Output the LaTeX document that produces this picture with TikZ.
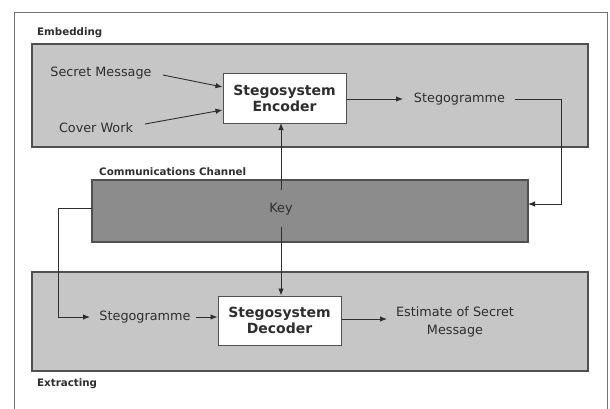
\documentclass[tikz,border=0pt]{standalone}
\usepackage{fontspec}
\setmainfont{DejaVu Sans}
\usetikzlibrary{arrows.meta}
\definecolor{panelfill}{HTML}{C6C6C6}
\definecolor{chanfill}{HTML}{8C8C8C}
\definecolor{edge}{HTML}{505050}
\definecolor{ink}{HTML}{2E2E2E}
\tikzset{
  panel/.style={draw=edge, line width=1.2pt, fill=panelfill},
  chan/.style={draw=edge, line width=1.2pt, fill=chanfill},
  procbox/.style={draw=edge, line width=1pt, fill=white, inner sep=0pt, align=center, font=\fontsize{14}{16}\selectfont\bfseries, text=ink},
  lbl/.style={font=\fontsize{12.8}{18}\selectfont, text=ink, inner sep=1pt, align=center},
  paneltitle/.style={font=\fontsize{10.3}{12}\selectfont\bfseries, text=ink, inner sep=0pt, anchor=west},
  conn/.style={draw=ink, line width=0.9pt, -{Latex[length=7pt,width=5.5pt]}}
}
\begin{document}
\begin{tikzpicture}[x=1pt,y=-1pt]
\useasboundingbox (0,0) rectangle (610,408);
\clip (0,0) rectangle (610,408);
\fill[white] (0,0) rectangle (610,408);
% outer frame
\draw[draw=edge!80, line width=1pt] (14,12) rectangle (607,414);
% panels
\draw[panel] (32,44) rectangle (588,147);
\draw[chan] (92,180) rectangle (528,242);
\draw[panel] (32,272) rectangle (588,371);
% panel captions
\node[paneltitle] (capemb) at (37,33) {Embedding};
\node[paneltitle] (capchan) at (99,172) {Communications Channel};
\node[paneltitle] (capext) at (37,384) {Extracting};
% nodes
\node[procbox, minimum width=123pt, minimum height=50pt] (enc) at (284.5,98) {Stegosystem\\Encoder};
\node[procbox, minimum width=123pt, minimum height=49pt] (dec) at (279.5,320.5) {Stegosystem\\Decoder};
\node[lbl] (secret) at (101,73) {Secret Message};
\node[lbl] (cover) at (96,128) {Cover Work};
\node[lbl] (stego1) at (459.5,99) {Stegogramme};
\node[lbl] (key) at (281,209) {Key};
\node[lbl] (stego2) at (145,317) {Stegogramme};
\node[lbl] (est) at (455,321.5) {Estimate of Secret\\Message};
% channel anchor points
\coordinate (chR) at (528,204);
\coordinate (chL) at (92,208);
\coordinate (keyTop) at (281,190);
\coordinate (keyBot) at (281,227);
% connectors
\draw[conn] (163,75) -- (enc.west |- 0,87);
\draw[conn] (145,124) -- (enc.west |- 0,110);
\draw[conn] (enc.east |- 0,99) -- (403,99);
\draw[conn] (515,99) -- (561,99) -- (561,204) -- (chR);
\draw[conn] (keyTop) -- (281,123);
\draw[conn] (keyBot) -- (dec.north -| keyBot);
\draw[conn] (chL) -- (58,208) -- (58,317) -- (90,317);
\draw[conn] (196,317) -- (dec.west |- 0,317);
\draw[conn] (dec.east |- 0,319) -- (387,319);
\end{tikzpicture}
\end{document}
